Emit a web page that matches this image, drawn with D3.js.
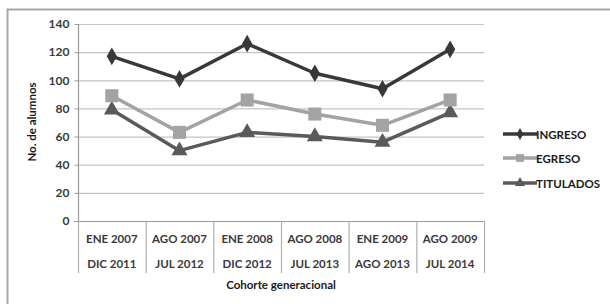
<!DOCTYPE html>
<html><head><meta charset="utf-8">
<script src="https://cdn.jsdelivr.net/npm/d3@7/dist/d3.min.js"></script>
<style>body{margin:0;background:#fff;}svg{display:block;}</style>
</head><body>
<script>
const categoriesTop = ["ENE 2007","AGO 2007","ENE 2008","AGO 2008","ENE 2009","AGO 2009"];
const categoriesBottom = ["DIC 2011","JUL 2012","DIC 2012","JUL 2013","AGO 2013","JUL 2014"];
const ingreso = [117,101,126,105,94,122];
const egreso = [89,63,86,76,68,86];
const titulados = [79,50,63,60,56,77];
const yTicks = [0,20,40,60,80,100,120,140];
const seriesNames = ["INGRESO","EGRESO","TITULADOS"];

(function(){
const W=610,H=304;
const svg=d3.select("body").append("svg").attr("width",W).attr("height",H);
const font="Lato, 'Open Sans', sans-serif";
svg.append("path").attr("d","M7.5,304 V9.5 H610").attr("fill","none").attr("stroke","#a8a8a8").attr("stroke-width",2);

const pL=78,pR=484,pT=24,pB=221;
const x=d3.scaleBand().domain(d3.range(6)).range([pL,pR]);
const y=d3.scaleLinear().domain([0,140]).range([pB,pT]);

svg.append("g").selectAll("line").data(yTicks.filter(d=>d>0)).join("line")
 .attr("x1",pL).attr("x2",pR).attr("y1",d=>y(d)+0.5).attr("y2",d=>y(d)+0.5)
 .attr("stroke","#c4c4c4").attr("stroke-width",1.2);

const ya=svg.append("g").attr("transform",`translate(${pL+0.5},0)`)
 .call(d3.axisLeft(y).tickValues(yTicks).tickSize(4).tickPadding(5));
ya.select(".domain").attr("stroke","#9a9a9a").attr("stroke-width",1.2).attr("d",`M0,${pT}V${pB}`);
ya.selectAll(".tick line").attr("stroke","#9a9a9a");
ya.selectAll("text").attr("font-family",font).attr("font-size",12).attr("font-weight","bold").attr("fill","#3a3a3a");

svg.append("line").attr("x1",pL-4).attr("x2",pR).attr("y1",pB+0.5).attr("y2",pB+0.5).attr("stroke","#9a9a9a").attr("stroke-width",1.2);
svg.append("g").selectAll("line").data(d3.range(7)).join("line")
 .attr("x1",d=>(d<6?x(d):pR)+0.5).attr("x2",d=>(d<6?x(d):pR)+0.5)
 .attr("y1",pB).attr("y2",273).attr("stroke","#b0b0b0").attr("stroke-width",1.2);
const xl=svg.append("g");
xl.selectAll("text.t").data(categoriesTop).join("text").attr("class","t")
 .attr("x",(d,i)=>x(i)+x.bandwidth()/2).attr("y",243).attr("text-anchor","middle")
 .attr("font-family",font).attr("font-size",11.5).attr("fill","#3a3a3a").attr("font-weight","bold").text(d=>d);
xl.selectAll("text.b").data(categoriesBottom).join("text").attr("class","b")
 .attr("x",(d,i)=>x(i)+x.bandwidth()/2).attr("y",268).attr("text-anchor","middle")
 .attr("font-family",font).attr("font-size",11.5).attr("fill","#3a3a3a").attr("font-weight","bold").text(d=>d);

svg.append("text").attr("x",281).attr("y",289).attr("text-anchor","middle")
 .attr("font-family",font).attr("font-size",11.5).attr("font-weight","bold").attr("fill","#1a1a1a").text("Cohorte generacional");
svg.append("text").attr("transform","translate(36,122) rotate(-90)").attr("text-anchor","middle")
 .attr("font-family",font).attr("font-size",11.5).attr("font-weight","bold").attr("fill","#1a1a1a").text("No. de alumnos");

const colors=["#383838","#a3a3a3","#5a5a5a"];
const data=[ingreso,egreso,titulados];
const line=d3.line().x((d,i)=>x(i)+x.bandwidth()/2).y(d=>y(d));
[2,1,0].forEach(s=>{
 const g=svg.append("g");
 g.append("path").datum(data[s]).attr("d",line).attr("fill","none").attr("stroke",colors[s]).attr("stroke-width",3.5).attr("stroke-linejoin","round");
 const pts=g.selectAll("path.m").data(data[s]).join("path").attr("class","m")
  .attr("transform",(d,i)=>`translate(${x(i)+x.bandwidth()/2},${y(d)})`).attr("fill",colors[s]);
 if(s===0) pts.attr("d",d3.symbol(d3.symbolDiamond,90)());
 if(s===1) pts.attr("d",d3.symbol(d3.symbolSquare,170)());
 if(s===2) pts.attr("d",d3.symbol(d3.symbolTriangle,110)());
});

const ly=[134,158,183];
seriesNames.forEach((n,i)=>{
 const g=svg.append("g");
 g.append("line").attr("x1",503).attr("x2",537).attr("y1",ly[i]).attr("y2",ly[i]).attr("stroke",colors[i]).attr("stroke-width",3.5);
 const sym=[d3.symbolDiamond,d3.symbolSquare,d3.symbolTriangle][i];
 g.append("path").attr("d",d3.symbol(sym,[40,60,45][i])()).attr("transform",`translate(520,${ly[i]})`).attr("fill",colors[i]);
 g.append("text").attr("x",536).attr("y",ly[i]+4.5).attr("font-family",font).attr("font-size",11.5).attr("font-weight","bold").attr("fill","#1a1a1a").text(n);
});
})();
</script>
</body></html>
